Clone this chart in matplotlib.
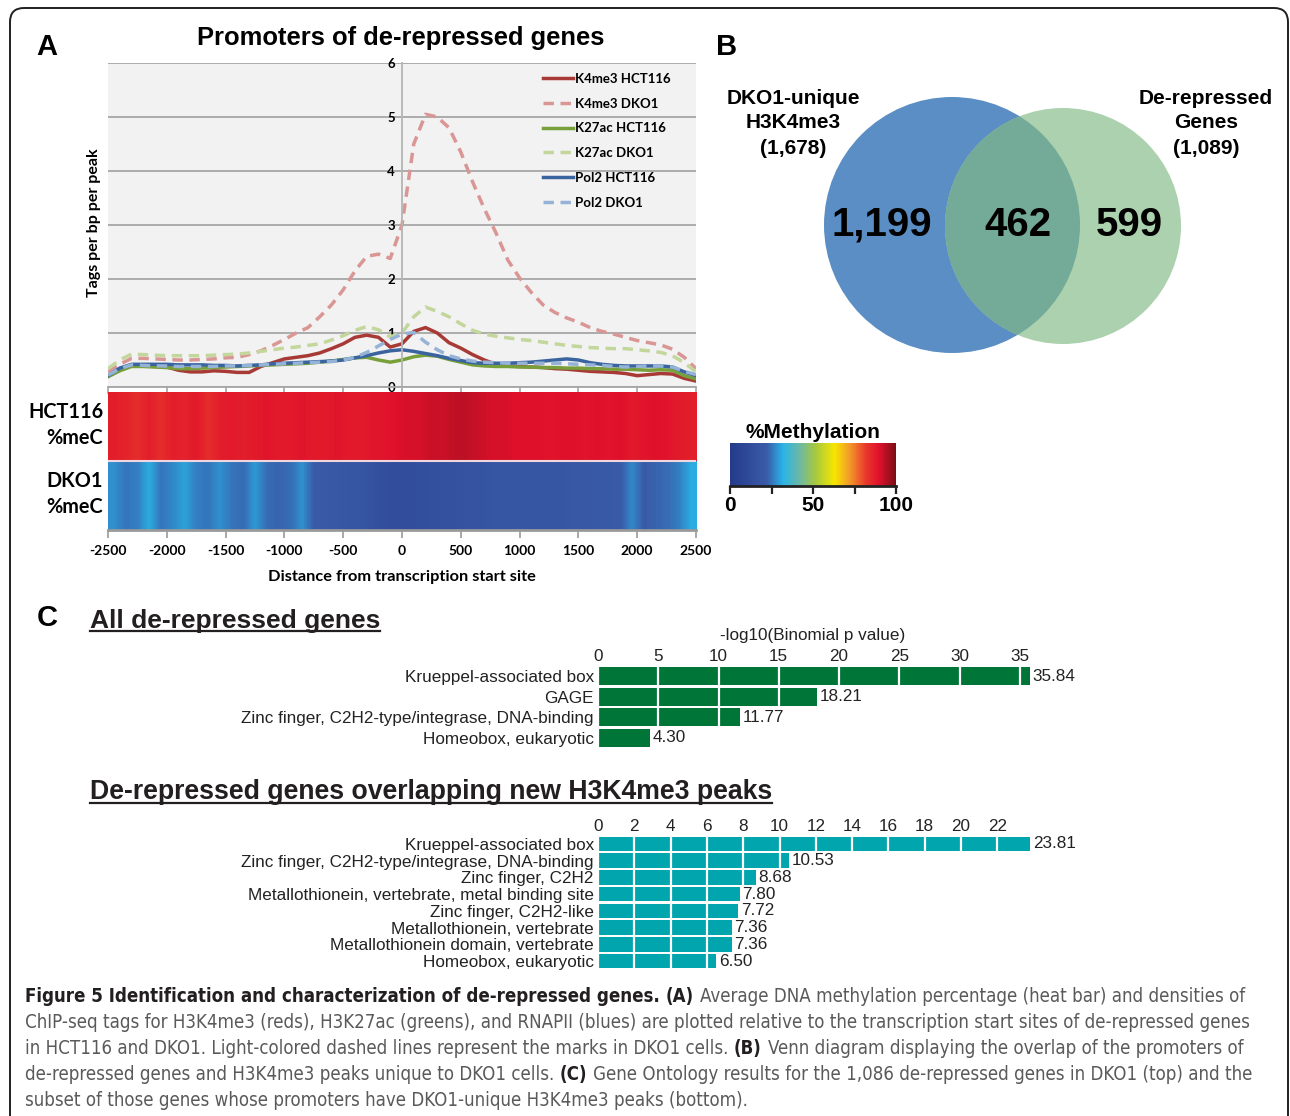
import matplotlib
matplotlib.use("Agg")
import matplotlib.pyplot as plt
from matplotlib.colors import LinearSegmentedColormap, Normalize
from matplotlib.cm import ScalarMappable
from matplotlib.patches import Circle, FancyBboxPatch
from matplotlib import font_manager

plt.rcParams["axes.unicode_minus"] = False

W, H = 1290, 1116

# ---------------- panel A: ChIP-seq tag density around the TSS (every 100 bp)
distance = list(range(-2500, 2501, 100))

k4me3_hct116 = [0.22, 0.33, 0.39, 0.39, 0.38, 0.37, 0.31, 0.28, 0.28, 0.30,
                0.29, 0.27, 0.27, 0.38, 0.45, 0.52, 0.55, 0.58, 0.63, 0.71,
                0.80, 0.92, 0.96, 0.92, 0.74, 0.80, 1.03, 1.10, 1.00, 0.82,
                0.72, 0.60, 0.50, 0.42, 0.39, 0.38, 0.37, 0.36, 0.34, 0.33,
                0.31, 0.29, 0.28, 0.27, 0.25, 0.21, 0.23, 0.25, 0.24, 0.16, 0.11]
k4me3_dko1 = [0.28, 0.42, 0.53, 0.53, 0.52, 0.51, 0.50, 0.50, 0.51, 0.52,
              0.54, 0.55, 0.60, 0.67, 0.77, 0.88, 1.00, 1.10, 1.30, 1.52,
              1.80, 2.15, 2.42, 2.46, 2.38, 3.00, 4.50, 5.05, 5.00, 4.80,
              4.35, 3.80, 3.30, 2.85, 2.35, 2.02, 1.75, 1.52, 1.38, 1.28,
              1.20, 1.10, 1.03, 0.98, 0.92, 0.86, 0.82, 0.78, 0.70, 0.55, 0.34]
k27ac_hct116 = [0.19, 0.30, 0.38, 0.38, 0.37, 0.36, 0.34, 0.34, 0.35, 0.36,
                0.37, 0.38, 0.39, 0.40, 0.41, 0.42, 0.43, 0.44, 0.46, 0.48,
                0.51, 0.54, 0.55, 0.50, 0.46, 0.50, 0.56, 0.59, 0.57, 0.51,
                0.46, 0.41, 0.39, 0.38, 0.38, 0.37, 0.37, 0.36, 0.36, 0.35,
                0.35, 0.34, 0.34, 0.33, 0.33, 0.32, 0.31, 0.32, 0.31, 0.21, 0.15]
k27ac_dko1 = [0.34, 0.50, 0.61, 0.60, 0.59, 0.58, 0.58, 0.58, 0.58, 0.59,
              0.60, 0.61, 0.63, 0.66, 0.69, 0.72, 0.74, 0.77, 0.80, 0.87,
              0.95, 1.05, 1.12, 1.06, 0.93, 1.00, 1.30, 1.48, 1.40, 1.30,
              1.17, 1.05, 0.98, 0.94, 0.91, 0.88, 0.86, 0.83, 0.80, 0.77,
              0.75, 0.73, 0.72, 0.71, 0.71, 0.69, 0.67, 0.64, 0.58, 0.45, 0.28]
pol2_hct116 = [0.21, 0.35, 0.42, 0.42, 0.42, 0.42, 0.41, 0.41, 0.41, 0.40,
               0.40, 0.39, 0.40, 0.41, 0.43, 0.44, 0.45, 0.46, 0.47, 0.48,
               0.50, 0.54, 0.58, 0.63, 0.67, 0.69, 0.66, 0.62, 0.58, 0.53,
               0.49, 0.45, 0.44, 0.44, 0.44, 0.45, 0.46, 0.48, 0.50, 0.52,
               0.50, 0.45, 0.42, 0.40, 0.39, 0.39, 0.39, 0.39, 0.37, 0.28, 0.21]
pol2_dko1 = [0.22, 0.34, 0.41, 0.40, 0.39, 0.39, 0.38, 0.38, 0.38, 0.38,
             0.39, 0.39, 0.40, 0.41, 0.42, 0.43, 0.44, 0.45, 0.46, 0.47,
             0.50, 0.55, 0.64, 0.76, 0.88, 0.98, 1.01, 0.83, 0.69, 0.58,
             0.52, 0.48, 0.46, 0.45, 0.44, 0.44, 0.44, 0.44, 0.44, 0.43,
             0.42, 0.41, 0.40, 0.38, 0.37, 0.38, 0.39, 0.39, 0.37, 0.29, 0.23]

series_labels = ["K4me3 HCT116", "K4me3 DKO1", "K27ac HCT116",
                 "K27ac DKO1", "Pol2 HCT116", "Pol2 DKO1"]
series_values = [k4me3_hct116, k4me3_dko1, k27ac_hct116,
                 k27ac_dko1, pol2_hct116, pol2_dko1]
series_colors = ["#a83a36", "#d99694", "#77a03a", "#c3d69b", "#3a64a0", "#95b3d7"]
series_dashed = [False, True, False, True, False, True]

# average % methylation per 100 bp bin (heat bar)
meth_hct116 = [87, 86, 84, 87, 84, 87, 86, 88, 84, 87,
               88, 87, 88, 89, 88, 88, 89, 88, 88, 89,
               88, 88, 89, 89, 90, 91, 91, 92, 92, 93,
               93, 92, 91, 91, 90, 90, 90, 89, 90, 90,
               89, 90, 89, 90, 88, 89, 90, 89, 88, 87]
meth_dko1 = [28, 25, 26, 31, 25, 27, 30, 26, 25, 28,
             25, 24, 29, 24, 23, 24, 28, 22, 21, 20,
             19, 18, 16, 14, 13, 13, 14, 15, 16, 16,
             17, 17, 18, 18, 18, 18, 19, 19, 19, 20,
             20, 21, 21, 22, 27, 22, 23, 24, 26, 31]

# ---------------- panel B: Venn counts
venn_left_only = 1199
venn_both = 462
venn_right_only = 599
venn_left_total = 1678
venn_right_total = 1089

# ---------------- panel C: GO enrichment, -log10(binomial p)
go_all_terms = ["Krueppel-associated box", "GAGE",
                "Zinc finger, C2H2-type/integrase, DNA-binding",
                "Homeobox, eukaryotic"]
go_all_values = [35.84, 18.21, 11.77, 4.30]

go_new_terms = ["Krueppel-associated box",
                "Zinc finger, C2H2-type/integrase, DNA-binding",
                "Zinc finger, C2H2",
                "Metallothionein, vertebrate, metal binding site",
                "Zinc finger, C2H2-like",
                "Metallothionein, vertebrate",
                "Metallothionein domain, vertebrate",
                "Homeobox, eukaryotic"]
go_new_values = [23.81, 10.53, 8.68, 7.80, 7.72, 7.36, 7.36, 6.50]


def px_rect(x0, y0, x1, y1):
    return [x0 / W, 1 - y1 / H, (x1 - x0) / W, (y1 - y0) / H]


cal = "Lato"
hel = "Liberation Sans"

fig = plt.figure(figsize=(W / 100, H / 100), dpi=100)

# full-figure axes in pixel units for labels and the Venn
canvas = fig.add_axes([0, 0, 1, 1])
canvas.set_xlim(0, W)
canvas.set_ylim(H, 0)
canvas.axis("off")

canvas.add_patch(FancyBboxPatch((10, 8), 1278, 1140,
                                boxstyle="round,pad=0,rounding_size=14",
                                fc="none", ec="#231f20", lw=1.4))

# ---------------- panel A line plot
ax = fig.add_axes(px_rect(108, 63, 696, 387))
ax.set_facecolor("#f2f2f2")
for vals, col, dashed, lab in zip(series_values, series_colors, series_dashed, series_labels):
    if dashed:
        ax.plot(distance, vals, color=col, lw=2.5, dashes=(3.0, 1.9), label=lab)
    else:
        ax.plot(distance, vals, color=col, lw=2.5, label=lab)
ax.set_xlim(-2500, 2500)
ax.set_ylim(0, 6)
ax.spines["left"].set_position(("data", 0))
ax.spines["left"].set_color("#b4b4b4")
ax.spines["left"].set_linewidth(1.3)
ax.spines["top"].set_visible(False)
ax.spines["right"].set_visible(False)
ax.spines["bottom"].set_color("#a6a6a6")
ax.spines["bottom"].set_linewidth(1.3)
ax.set_yticks(range(7))
ax.yaxis.grid(True, color="#a6a6a6", lw=1.3)
ax.set_axisbelow(True)
ax.tick_params(axis="y", length=0, pad=5, labelsize=9.5)
for t in ax.get_yticklabels():
    t.set_fontweight("bold")
    t.set_family(cal)
ax.set_xticks(range(-2500, 2501, 500))
ax.tick_params(axis="x", length=5, width=1.2, color="#a6a6a6", labelbottom=False)
ax.legend(loc="upper left", bbox_to_anchor=(0.74, 0.97), frameon=False,
          handlelength=2.3, handletextpad=0.15, labelspacing=0.97,
          borderpad=0, borderaxespad=0,
          prop=dict(family=cal, weight="bold", size=9.5))

# ---------------- panel A heat bar
meth_cmap = LinearSegmentedColormap.from_list("meth", [
    (0.0, "#253a8b"), (0.22, "#3a5ba8"), (0.32, "#29b5e8"), (0.42, "#6db8a2"),
    (0.52, "#a9c93c"), (0.63, "#f6e600"), (0.72, "#f39a2a"), (0.82, "#e8372b"),
    (0.90, "#e0112b"), (1.0, "#7a0f16")])

axh = fig.add_axes(px_rect(108, 392, 696, 530))
axh.imshow([meth_hct116], extent=(-2500, 2500, 1, 2), aspect="auto",
           cmap=meth_cmap, vmin=0, vmax=100, interpolation="bilinear")
axh.imshow([meth_dko1], extent=(-2500, 2500, 0, 1), aspect="auto",
           cmap=meth_cmap, vmin=0, vmax=100, interpolation="bilinear")
axh.set_xlim(-2500, 2500)
axh.set_ylim(0, 2)
axh.axhline(1, color="#f0d6de", lw=1.5)
for s in ["top", "left", "right"]:
    axh.spines[s].set_visible(False)
axh.spines["bottom"].set_color("#9a9a9a")
axh.spines["bottom"].set_linewidth(2)
axh.set_yticks([])
axh.set_xticks(range(-2500, 2501, 500))
axh.tick_params(axis="x", length=6, width=1.2, color="#9a9a9a", pad=5, labelsize=10)
for t in axh.get_xticklabels():
    t.set_fontweight("bold")
    t.set_family(cal)

canvas.text(402, 577, "Distance from transcription start site", ha="center", va="center",
            family=cal, weight="bold", fontsize=11.8)
canvas.text(94, 223, "Tags per bp per peak", ha="center", va="center", rotation=90,
            family=cal, weight="bold", fontsize=11.5)
for y, s in [(412, "HCT116"), (438, "%meC"), (481, "DKO1"), (507, "%meC")]:
    canvas.text(103, y, s, ha="right", va="center", family=cal, weight="bold", fontsize=14.3)

canvas.text(47, 47, "A", ha="center", va="center", family=hel, weight="bold", fontsize=21)
canvas.text(401, 38, "Promoters of de-repressed genes", ha="center", va="center",
            family=hel, weight="bold", fontsize=18.4)

# colour key
cax = fig.add_axes(px_rect(730, 443, 896, 486))
cb = fig.colorbar(ScalarMappable(norm=Normalize(0, 100), cmap=meth_cmap), cax=cax,
                  orientation="horizontal", ticks=[0, 25, 50, 75, 100])
cb.outline.set_visible(False)
cax.set_xticklabels(["0", "", "50", "", "100"])
cax.tick_params(length=6, width=1.6, color="#222222", labelsize=15, pad=1)
for t in cax.get_xticklabels():
    t.set_fontweight("bold")
    t.set_family(hel)
cax.axhline(0, color="#222222", lw=2, clip_on=False)
canvas.text(813, 432, "%Methylation", ha="center", va="center", family=hel,
            weight="bold", fontsize=15)

# ---------------- panel B Venn
canvas.text(727, 47, "B", ha="center", va="center", family=hel, weight="bold", fontsize=21)
blue = Circle((952, 225), 128, fc="#5b8ec4", ec="none")
green = Circle((1063, 226), 118, fc="#acd1ae", ec="none")
canvas.add_patch(blue)
canvas.add_patch(green)
both = Circle((1063, 226), 118, fc="#73aa98", ec="none")
canvas.add_patch(both)
both.set_clip_path(blue)
canvas.text(882, 225, f"{venn_left_only:,}", ha="center", va="center", family=hel,
            weight="bold", fontsize=29)
canvas.text(1018, 225, f"{venn_both:,}", ha="center", va="center", family=hel,
            weight="bold", fontsize=29)
canvas.text(1129, 225, f"{venn_right_only:,}", ha="center", va="center", family=hel,
            weight="bold", fontsize=29)
canvas.text(793, 123, f"DKO1-unique\nH3K4me3\n({venn_left_total:,})", ha="center",
            va="center", multialignment="center", linespacing=1.4, family=hel,
            weight="bold", fontsize=15)
canvas.text(1206, 123, f"De-repressed\nGenes\n({venn_right_total:,})", ha="center",
            va="center", multialignment="center", linespacing=1.4, family=hel,
            weight="bold", fontsize=15)

# ---------------- panel C bar charts
renderer = fig.canvas.get_renderer()


def underlined(x, y, s, size):
    t = canvas.text(x, y, s, ha="left", va="center", family=hel, weight="bold",
                    fontsize=size, color="#231f20")
    bb = t.get_window_extent(renderer)
    uy = H - bb.y0 - 2
    canvas.plot([bb.x0, bb.x1], [uy, uy], color="#231f20", lw=1.6)


canvas.text(47, 618, "C", ha="center", va="center", family=hel, weight="bold", fontsize=21)
underlined(90, 621, "All de-repressed genes", 19)
underlined(90, 792, "De-repressed genes overlapping new H3K4me3 peaks", 19.2)

bar_font = 12.3


def go_bars(rect, terms, values, color, xmax, step, last_tick):
    a = fig.add_axes(rect)
    bars = a.barh(range(len(terms)), values, height=0.88, color=color)
    a.set_xlim(0, xmax)
    a.set_ylim(len(terms) - 0.5, -0.5)
    a.set_yticks(range(len(terms)))
    a.set_yticklabels(terms)
    a.set_xticks(range(0, last_tick + 1, step))
    a.xaxis.tick_top()
    a.tick_params(axis="both", length=0, labelsize=bar_font, colors="#222222")
    a.tick_params(axis="x", pad=1.5)
    a.tick_params(axis="y", pad=3)
    for t in a.get_xticklabels() + a.get_yticklabels():
        t.set_family(hel)
    for s in a.spines.values():
        s.set_visible(False)
    a.xaxis.grid(True, color="white", lw=1.6)
    a.set_axisbelow(False)
    a.patch.set_alpha(0)
    a.bar_label(bars, fmt="%.2f", padding=2, fontsize=bar_font, family=hel, color="#222222")
    return a


ax1 = go_bars(px_rect(598, 666, 1080, 748), go_all_terms, go_all_values,
              "#007538", 40, 5, 35)
ax1.set_xlabel("-log10(Binomial p value)", family=hel, fontsize=bar_font, color="#222222")
ax1.xaxis.set_label_position("top")
ax1.xaxis.set_label_coords(0.446, 1.0 + 26 / 82)

ax2 = go_bars(px_rect(598, 835.6, 1070, 969.4), go_new_terms, go_new_values,
              "#00a5ad", 26, 2, 22)

# ---------------- caption
names = {f.name for f in font_manager.fontManager.ttflist}
if "Liberation Sans Narrow" in names:
    cap_font = dict(family="Liberation Sans Narrow")
else:
    cap_font = dict(family="DejaVu Sans", fontstretch="condensed")

caption = [
    [("Figure 5 Identification and characterization of de-repressed genes.", True),
     ("(A)", True), ("Average DNA methylation percentage (heat bar) and densities of", False)],
    [("ChIP-seq tags for H3K4me3 (reds), H3K27ac (greens), and RNAPII (blues) are plotted "
      "relative to the transcription start sites of de-repressed genes", False)],
    [("in HCT116 and DKO1. Light-colored dashed lines represent the marks in DKO1 cells.", False),
     ("(B)", True), ("Venn diagram displaying the overlap of the promoters of", False)],
    [("de-repressed genes and H3K4me3 peaks unique to DKO1 cells.", False), ("(C)", True),
     ("Gene Ontology results for the 1,086 de-repressed genes in DKO1 (top) and the", False)],
    [("subset of those genes whose promoters have DKO1-unique H3K4me3 peaks (bottom).", False)],
]


def text_width(s, bold, size):
    t = canvas.text(0, 0, s, fontsize=size, weight="bold" if bold else "normal", **cap_font)
    w = t.get_window_extent(renderer).width
    t.remove()
    return w


scale = 1233 / text_width(caption[1][0][0], False, 10)
cap_size = 10 * scale
for i, line in enumerate(caption):
    x = 25
    y = 1002 + 26 * i
    for s, bold in line:
        space = text_width("x x", bold, cap_size) - text_width("xx", bold, cap_size)
        t = canvas.text(x, y, s, fontsize=cap_size, va="baseline",
                        weight="bold" if bold else "normal",
                        color="#231f20" if bold else "#5a5a5a", **cap_font)
        x += t.get_window_extent(renderer).width + space

fig.savefig("out.png", dpi=100)
